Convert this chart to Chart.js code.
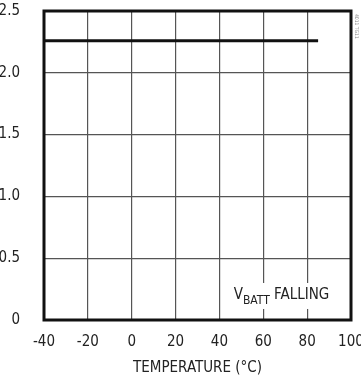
<!DOCTYPE html>
<html>
<head>
<meta charset="utf-8">
<script src="https://cdn.jsdelivr.net/npm/chart.js@4"></script>
<style>
  html, body { margin: 0; padding: 0; background: #fff; }
</style>
</head>
<body>
<canvas id="chart" width="361" height="381"></canvas>
<script>
// temperature sweep and threshold voltage
const temps = [-40, 85];
const vbattFalling = [2.26, 2.26];
const xTicks = [-40, -20, 0, 20, 40, 60, 80, 100];
const yTicks = [0, 0.5, 1.0, 1.5, 2.0, 2.5];

const FONT = '"Liberation Sans Narrow", "DejaVu Sans Condensed", sans-serif';

// border box + label + figure id
const extras = {
  id: 'extras',
  afterDatasetsDraw(chart) {
    const { ctx, chartArea: a, scales } = chart;
    ctx.save();

    // label with white knockout
    const lx = scales.x.getPixelForValue(46.5);
    const ly = scales.y.getPixelForValue(0.17);
    ctx.fillStyle = '#fff';
    ctx.fillRect(lx - 3, ly - 16, 102, 26);
    ctx.fillStyle = '#222';
    ctx.textBaseline = 'alphabetic';
    ctx.font = '15px ' + FONT;
    ctx.fillText('V', lx, ly);
    let w = ctx.measureText('V').width;
    ctx.font = '12px ' + FONT;
    ctx.fillText('BATT', lx + w, ly + 5);
    w += ctx.measureText('BATT').width;
    ctx.font = '15px ' + FONT;
    ctx.fillText(' FALLING', lx + w, ly);

    // frame
    ctx.strokeStyle = '#111';
    ctx.lineWidth = 3;
    ctx.strokeRect(a.left, a.top, a.right - a.left, a.bottom - a.top);

    // figure id
    ctx.translate(357, 14);
    ctx.rotate(Math.PI / 2);
    ctx.fillStyle = '#888';
    ctx.font = '5px ' + FONT;
    ctx.fillText('4011 TG11', 0, 2);
    ctx.restore();
  }
};

new Chart(document.getElementById('chart'), {
  type: 'line',
  data: {
    datasets: [{
      data: temps.map((t, i) => ({ x: t, y: vbattFalling[i] })),
      borderColor: '#111',
      borderWidth: 3,
      pointRadius: 0,
      fill: false
    }]
  },
  options: {
    responsive: false,
    animation: false,
    layout: { padding: { top: 11, right: 10, left: 0, bottom: 0 } },
    plugins: { legend: { display: false }, tooltip: { enabled: false } },
    scales: {
      x: {
        type: 'linear',
        min: -40,
        max: 100,
        afterBuildTicks(s) { s.ticks = xTicks.map(v => ({ value: v })); },
        afterFit(s) { s.height = 61; s.paddingLeft = 0; s.paddingRight = 0; },
        grid: { color: '#555', lineWidth: 1.2, drawTicks: false },
        border: { display: false },
        ticks: { color: '#222', padding: 13, maxRotation: 0, font: { family: FONT, size: 15 } },
        title: { display: true, text: 'TEMPERATURE (°C)', color: '#222', padding: { top: 6 }, font: { family: FONT, size: 15 } }
      },
      y: {
        min: 0,
        max: 2.5,
        afterBuildTicks(s) { s.ticks = yTicks.map(v => ({ value: v })); },
        afterFit(s) { s.width = 44; s.paddingTop = 0; s.paddingBottom = 0; },
        grid: { color: '#555', lineWidth: 1.2, drawTicks: false },
        border: { display: false },
        ticks: {
          color: '#222',
          padding: 24,
          font: { family: FONT, size: 15 },
          callback: v => v === 0 ? '0' : v.toFixed(1)
        }
      }
    }
  },
  plugins: [extras]
});
</script>
</body>
</html>
